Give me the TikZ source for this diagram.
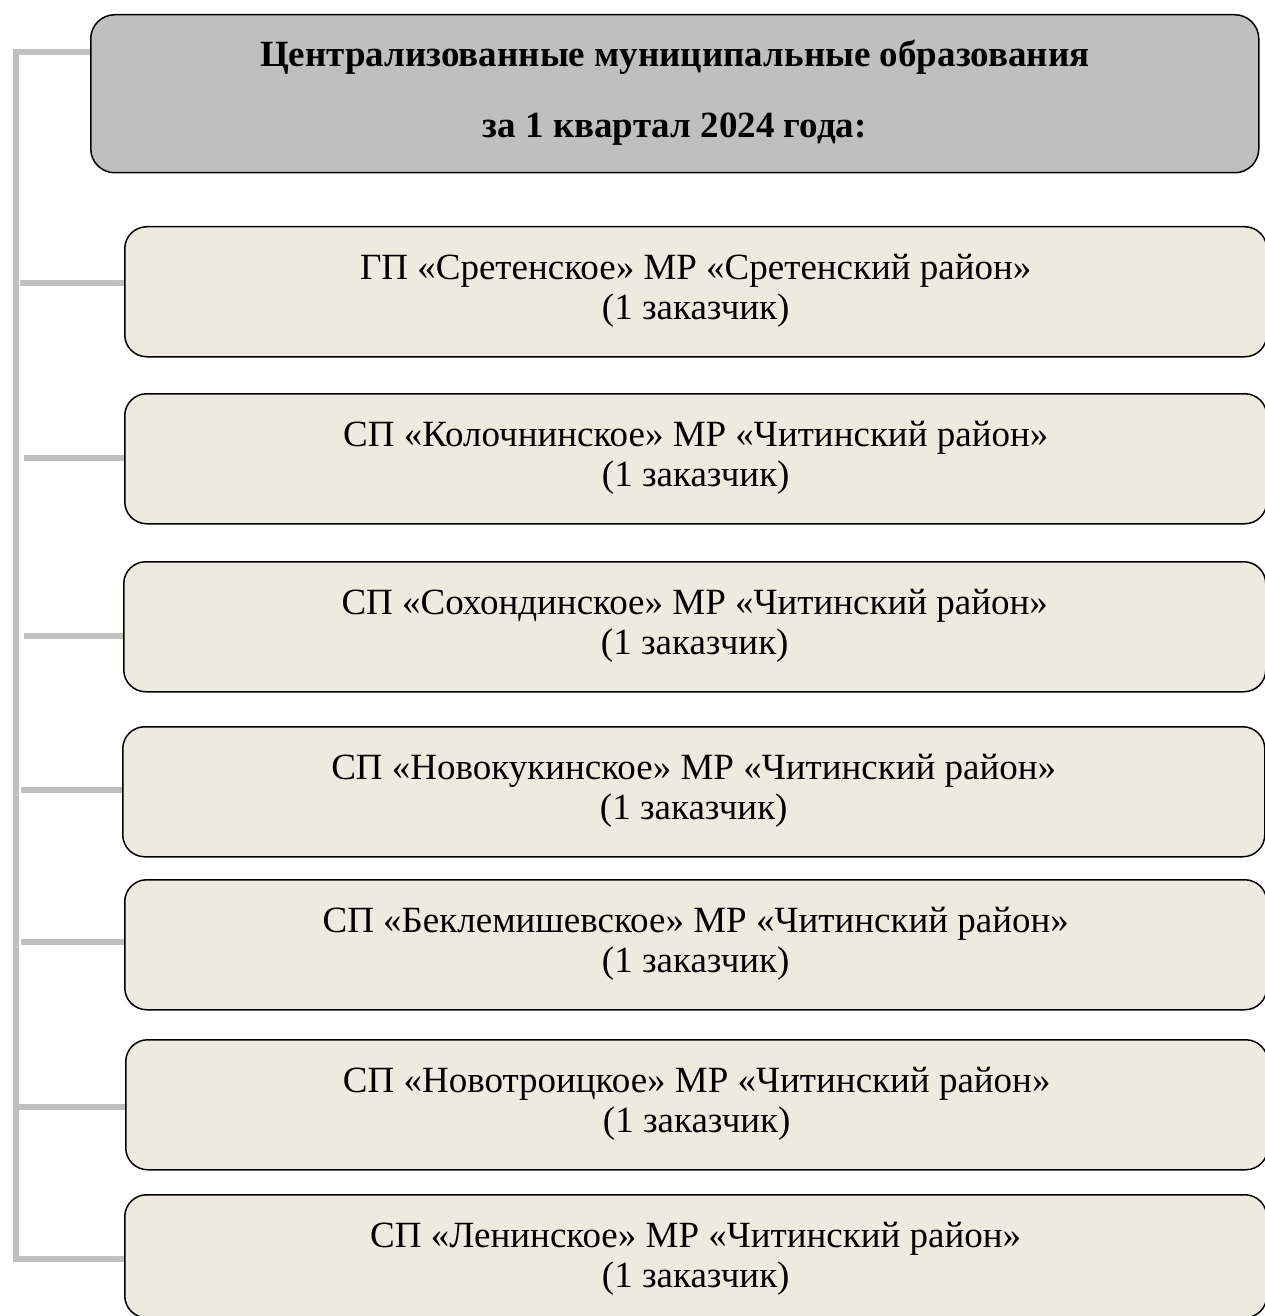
\documentclass[tikz,border=0pt]{standalone}
\usepackage{fontspec}
\setmainfont{Liberation Serif}
\definecolor{hdrgray}{HTML}{BFBFBF}
\definecolor{boxtan}{HTML}{EDEBE0}
\definecolor{conngray}{HTML}{BFBFBF}
\begin{document}
\begin{tikzpicture}[x=1bp,y=-1bp,
  hdrbox/.style={draw=black,line width=1.5bp,fill=hdrgray,rounded corners=24bp,
    minimum width=1168bp,minimum height=158bp,anchor=north west,inner sep=0pt,
    text height=98bp,text depth=10bp,
    align=center,font=\fontsize{37bp}{71bp}\selectfont\bfseries},
  itembox/.style={draw=black,line width=1.5bp,fill=boxtan,rounded corners=22bp,
    minimum width=1142bp,minimum height=130bp,anchor=north west,inner sep=0pt,
    text height=66bp,text depth=10bp,
    align=center,font=\fontsize{37bp}{40bp}\selectfont},
  conn/.style={draw=conngray,line width=5.5bp}]
\useasboundingbox (0,0) rectangle (1264,1316);

\node[hdrbox] (hd) at (90,14) {Централизованные муниципальные образования\\за 1 квартал 2024 года:};

\node[itembox] (b1) at (124,226) {ГП «Сретенское» МР «Сретенский район»\\(1 заказчик)};
\node[itembox] (b2) at (124,393) {СП «Колочнинское» МР «Читинский район»\\(1 заказчик)};
\node[itembox] (b3) at (123,561) {СП «Сохондинское» МР «Читинский район»\\(1 заказчик)};
\node[itembox] (b4) at (122,726) {СП «Новокукинское» МР «Читинский район»\\(1 заказчик)};
\node[itembox] (b5) at (124,879) {СП «Беклемишевское» МР «Читинский район»\\(1 заказчик)};
\node[itembox] (b6) at (125,1039) {СП «Новотроицкое» МР «Читинский район»\\(1 заказчик)};
\node[itembox,minimum height=123bp,text height=73bp] (b7) at (124,1194) {СП «Ленинское» МР «Читинский район»\\(1 заказчик)};

\coordinate (top) at (16,52);
\coordinate (bot) at (16,1259);
\coordinate (s1) at (20,283);
\coordinate (s2) at (24,458);
\coordinate (s3) at (24,636);
\coordinate (s4) at (21,790);
\coordinate (s5) at (21,942);
\coordinate (s6) at (19,1107);

\draw[conn] (top -| hd.west) -- (top) -- (bot) -- (bot -| b7.west);
\draw[conn] (s1) -- (s1 -| b1.west);
\draw[conn] (s2) -- (s2 -| b2.west);
\draw[conn] (s3) -- (s3 -| b3.west);
\draw[conn] (s4) -- (s4 -| b4.west);
\draw[conn] (s5) -- (s5 -| b5.west);
\draw[conn] (s6) -- (s6 -| b6.west);
\end{tikzpicture}
\end{document}
